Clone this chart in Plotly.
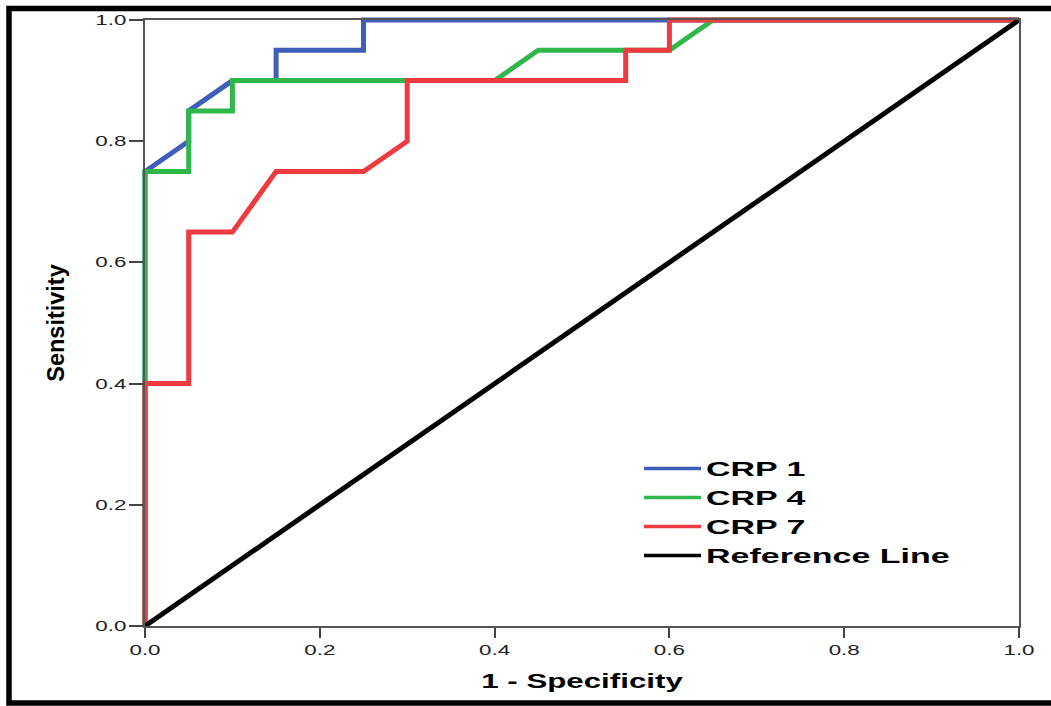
import plotly.graph_objects as go

# ---- data ----
fpr_crp1 = [0, 0, 0.05, 0.05, 0.10, 0.15, 0.15, 0.25, 0.25, 1.0]
tpr_crp1 = [0, 0.75, 0.80, 0.85, 0.90, 0.90, 0.95, 0.95, 1.0, 1.0]

fpr_crp4 = [0, 0, 0.05, 0.05, 0.10, 0.10, 0.40, 0.45, 0.60, 0.65, 1.0]
tpr_crp4 = [0, 0.75, 0.75, 0.85, 0.85, 0.90, 0.90, 0.95, 0.95, 1.0, 1.0]

fpr_crp7 = [0, 0, 0.05, 0.05, 0.10, 0.15, 0.25, 0.30, 0.30, 0.55, 0.55, 0.60, 0.60, 1.0]
tpr_crp7 = [0, 0.40, 0.40, 0.65, 0.65, 0.75, 0.75, 0.80, 0.90, 0.90, 0.95, 0.95, 1.0, 1.0]

fpr_ref = [0, 1]
tpr_ref = [0, 1]

series_names = ["CRP 1", "CRP 4", "CRP 7", "Reference Line"]
tick_vals = [0.0, 0.2, 0.4, 0.6, 0.8, 1.0]
tick_text = ["0.0", "0.2", "0.4", "0.6", "0.8", "1.0"]

colors = ["#3F5EB9", "#30B74A", "#EE3B3F", "#000000"]

fig = go.Figure()
for xs, ys, name, col in zip([fpr_crp1, fpr_crp4, fpr_crp7, fpr_ref],
                             [tpr_crp1, tpr_crp4, tpr_crp7, tpr_ref],
                             series_names, colors):
    fig.add_trace(go.Scatter(x=xs, y=ys, mode="lines", name=name,
                             line=dict(color=col, width=5)))

W, H = 1051, 706
L, R, T, B = 145, 32, 17, 80
pw, ph = W - L - R, H - T - B

def px_x(p):
    return (p - L) / pw

def px_y(p):
    return (H - B - p) / ph

axis_common = dict(
    range=[0, 1], showgrid=False, zeroline=False, showline=True, mirror=True,
    linecolor="#555555", linewidth=1.5, ticks="outside", tickcolor="#444444",
    tickwidth=1.5, tickvals=tick_vals, ticktext=tick_text,
    tickfont=dict(family="Liberation Sans, Arial, sans-serif", size=14, color="#222222"),
    fixedrange=True,
)

fig.update_layout(
    width=W, height=H,
    margin=dict(l=L, r=R, t=T, b=B),
    paper_bgcolor="white", plot_bgcolor="white",
    xaxis=dict(**axis_common, ticklen=10,
               title=dict(text="1 - Specificity", standoff=17,
                          font=dict(family="Liberation Sans, Arial, sans-serif", size=21,
                                    color="#000000", weight="bold"))),
    yaxis=dict(**axis_common, ticklen=14,
               title=dict(text="Sensitivity", standoff=36,
                          font=dict(family="Liberation Sans, Arial, sans-serif", size=23.5,
                                    color="#000000", weight="bold"))),
    legend=dict(x=px_x(639), y=px_y(448), xanchor="left", yanchor="top",
                bgcolor="rgba(0,0,0,0)", borderwidth=0, itemwidth=57,
                font=dict(family="Liberation Sans, Arial, sans-serif", size=20,
                          color="#000000", weight="bold")),
    showlegend=True,
    shapes=[dict(type="rect", xref="paper", yref="paper",
                 x0=px_x(9), x1=px_x(1062), y0=px_y(703.5), y1=px_y(5.5),
                 line=dict(color="black", width=5.5), fillcolor="rgba(0,0,0,0)",
                 layer="above")],
)

post = """
var gd = document.getElementById('{plot_id}');
function stretch(sel, k) {
  gd.querySelectorAll(sel).forEach(function(t){
    var x = parseFloat(t.getAttribute('x') || 0), y = parseFloat(t.getAttribute('y') || 0);
    var tr = t.getAttribute('transform') || '';
    t.setAttribute('transform', tr + ' translate(' + x + ',' + y + ') scale(' + k + ',1) translate(' + (-x) + ',' + (-y) + ')');
  });
}
stretch('.xtick text', 1.6);
stretch('.ytick text', 1.6);
stretch('.legendtext', 1.7);
stretch('.g-xtitle text', 1.49);
gd.querySelectorAll('.cartesianlayer [clip-path], .legend [clip-path]').forEach(function(g){ g.removeAttribute('clip-path'); });
gd.querySelectorAll('.legendlines path').forEach(function(p){ p.style.strokeWidth = '3.5px'; });
"""

fig.write_html("out.html", post_script=post, config={"displayModeBar": False})
